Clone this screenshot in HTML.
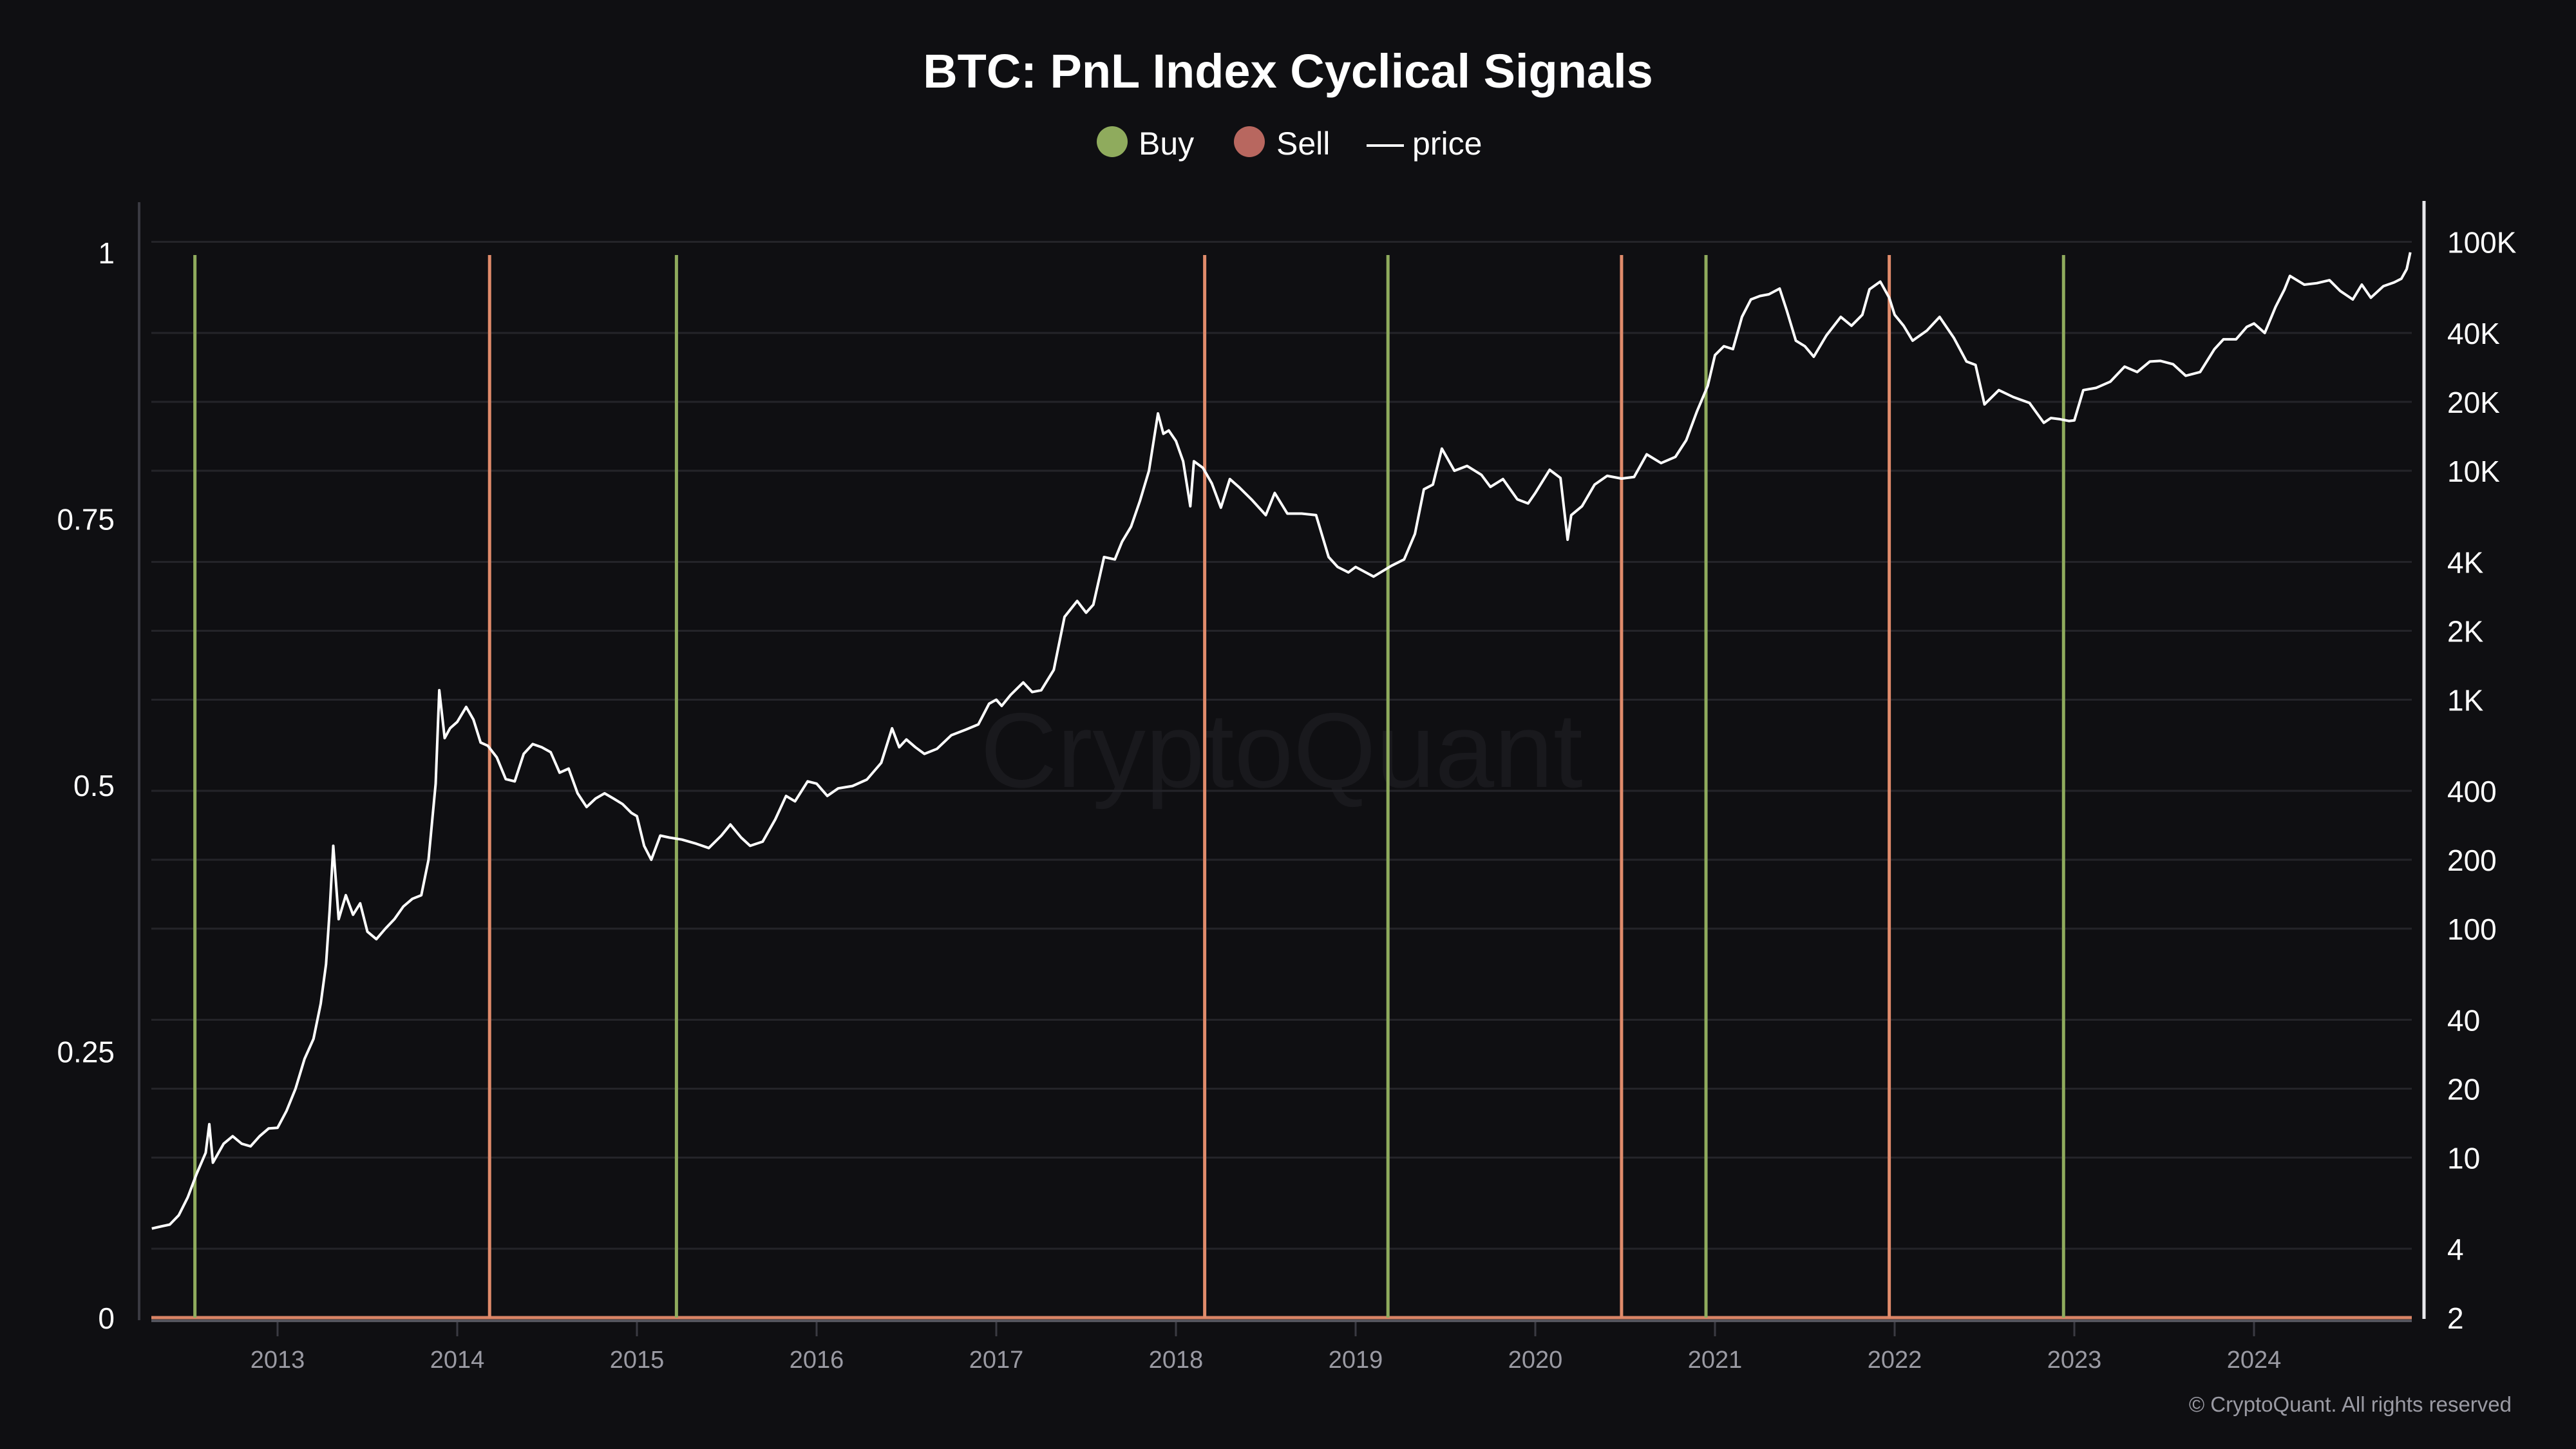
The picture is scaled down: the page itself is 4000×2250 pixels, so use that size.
<!DOCTYPE html>
<html><head><meta charset="utf-8">
<style>
html,body{margin:0;padding:0;background:#0f0f12;}
svg{display:block;font-family:"Liberation Sans",sans-serif;}
</style></head>
<body>
<svg id="chart" width="4000" height="2250" viewBox="0 0 4000 2250" xmlns="http://www.w3.org/2000/svg">
<rect width="4000" height="2250" fill="#0f0f12"/>
<text x="2000" y="136" text-anchor="middle" font-size="74" font-weight="bold" fill="#ffffff">BTC: PnL Index Cyclical Signals</text>
<g>
<g><circle cx="1727" cy="220" r="24" fill="#8fab5d"/><text x="1768" y="240" font-size="50" fill="#ffffff">Buy</text></g>
<g><circle cx="1940" cy="220" r="24" fill="#b8675f"/><text x="1982" y="240" font-size="50" fill="#ffffff">Sell</text></g>
<g><line x1="2122" y1="226" x2="2180" y2="226" stroke="#ffffff" stroke-width="4"/><text x="2193" y="240" font-size="50" fill="#ffffff">price</text></g>
</g>
<text x="1990" y="1222" text-anchor="middle" font-size="165" fill="#19191d">CryptoQuant</text>
<g id="grid"></g>
<g id="axes"></g>
<g id="signals"></g>
<g id="priceg"></g>
<text x="3900" y="2192" text-anchor="end" font-size="33" fill="#9a9aa3">© CryptoQuant. All rights reserved</text>
</svg>
<script>
const yearTicks = [2013,2014,2015,2016,2017,2018,2019,2020,2021,2022,2023,2024];
const leftTicks = [0,0.25,0.5,0.75,1];
const leftTickLabels = ["0","0.25","0.5","0.75","1"];
const priceTicks = [2,4,10,20,40,100,200,400,1000,2000,4000,10000,20000,40000,100000];
const priceTickLabels = ["2","4","10","20","40","100","200","400","1K","2K","4K","10K","20K","40K","100K"];
const buyDates = [2012.54,2015.22,2019.18,2020.95,2022.94];
const sellDates = [2014.18,2018.16,2020.48,2021.97];
const priceDates = [
2012.30,2012.35,2012.40,2012.45,2012.50,2012.55,2012.60,2012.62,2012.64,2012.70,2012.75,2012.80,2012.85,2012.90,2012.95,
2013.00,2013.05,2013.10,2013.15,2013.20,2013.24,2013.27,2013.29,2013.31,2013.34,2013.38,2013.42,2013.46,2013.50,2013.55,2013.60,2013.65,2013.70,2013.75,2013.80,2013.84,2013.88,2013.90,2013.93,2013.96,
2014.00,2014.05,2014.09,2014.13,2014.17,2014.22,2014.27,2014.32,2014.37,2014.42,2014.47,2014.52,2014.57,2014.62,2014.67,2014.72,2014.77,2014.82,2014.87,2014.92,2014.97,
2015.00,2015.04,2015.08,2015.13,2015.18,2015.25,2015.33,2015.40,2015.47,2015.52,2015.58,2015.63,2015.70,2015.77,2015.83,2015.88,2015.95,
2016.00,2016.06,2016.12,2016.20,2016.28,2016.36,2016.42,2016.46,2016.50,2016.55,2016.60,2016.67,2016.75,2016.83,2016.90,2016.96,
2017.00,2017.03,2017.08,2017.15,2017.20,2017.25,2017.32,2017.38,2017.45,2017.50,2017.54,2017.60,2017.66,2017.70,2017.75,2017.80,2017.85,2017.90,2017.93,2017.96,
2018.00,2018.04,2018.08,2018.10,2018.15,2018.20,2018.25,2018.30,2018.35,2018.42,2018.50,2018.55,2018.62,2018.70,2018.78,2018.85,2018.90,2018.96,
2019.00,2019.10,2019.20,2019.27,2019.33,2019.38,2019.43,2019.48,2019.55,2019.62,2019.70,2019.75,2019.82,2019.90,2019.96,
2020.00,2020.08,2020.14,2020.18,2020.20,2020.26,2020.33,2020.40,2020.48,2020.55,2020.62,2020.70,2020.78,2020.84,2020.90,2020.96,
2021.00,2021.05,2021.10,2021.15,2021.20,2021.25,2021.30,2021.36,2021.40,2021.45,2021.50,2021.55,2021.62,2021.70,2021.76,2021.82,2021.86,2021.92,2021.97,
2022.00,2022.05,2022.10,2022.18,2022.25,2022.33,2022.40,2022.45,2022.50,2022.58,2022.66,2022.75,2022.83,2022.87,2022.92,2022.97,
2023.00,2023.05,2023.12,2023.20,2023.28,2023.35,2023.42,2023.48,2023.55,2023.62,2023.70,2023.78,2023.83,2023.90,2023.96,
2024.00,2024.06,2024.12,2024.17,2024.20,2024.28,2024.35,2024.42,2024.48,2024.55,2024.60,2024.65,2024.72,2024.78,2024.82,2024.85,2024.87];
const priceValues = [
4.9,5.0,5.1,5.6,6.7,8.5,10.5,14,9.5,11.5,12.4,11.5,11.2,12.4,13.4,
13.5,16,20,27,33,47,70,120,230,110,140,115,129,97,90,100,110,125,135,140,200,430,1100,680,750,
800,930,820,650,630,560,450,440,580,640,620,590,480,500,390,340,370,390,370,350,320,
310,230,200,255,250,245,235,225,255,285,250,230,240,300,380,360,440,
430,380,410,420,448,530,750,620,670,620,580,610,700,740,780,960,
1000,940,1050,1190,1080,1100,1350,2300,2700,2400,2600,4200,4100,4900,5700,7400,10000,17800,14500,15000,
13500,11000,7000,11000,10300,8800,6900,9200,8500,7500,6400,8000,6500,6500,6400,4200,3800,3600,
3800,3450,3850,4100,5300,8300,8700,12500,10000,10500,9600,8500,9200,7500,7200,
8000,10100,9300,5000,6400,7000,8700,9500,9250,9400,11800,10800,11500,13600,18200,23500,
32000,35000,34000,47000,56000,58000,59000,62500,50000,37000,35000,31500,39000,47000,43000,48000,62000,67000,57000,
48000,43000,37000,41000,47000,38000,30000,29000,19500,22500,21000,19800,16200,17000,16800,16500,
16600,22500,23000,24500,28500,27000,30000,30200,29200,26000,27000,34000,37500,37500,42500,
44000,40000,52000,62000,71000,65000,66000,68000,61000,56000,65000,57000,64000,66500,69000,76000,90000];

const NS = "http://www.w3.org/2000/svg";
const X0 = 431, YEARPX = 279;
const xOf = t => X0 + (t - 2013) * YEARPX;
const Y0 = 2046, Y1 = 392;
const yLeft = v => Y0 - v * (Y0 - Y1);
const DEC = 355.5;
const yPrice = p => Y0 - Math.log10(p / 2) * DEC;
const PL = 235, PR = 3745;

function mk(tag, attrs, parent){
  const e = document.createElementNS(NS, tag);
  for (const k in attrs) e.setAttribute(k, attrs[k]);
  parent.appendChild(e);
  return e;
}
const grid = document.getElementById('grid');
const axes = document.getElementById('axes');
const sig = document.getElementById('signals');
const pg = document.getElementById('priceg');

priceTicks.forEach((p, i) => {
  const y = yPrice(p);
  if (i > 0) {
    const gl = mk('line', {x1: PL, x2: PR, y1: y, y2: y, stroke: '#242429', 'stroke-width': 3}, grid);
    
    
  }
  const t = mk('text', {x: 3800, y: y + 17, 'font-size': 46, fill: '#ffffff'}, axes);
  t.textContent = priceTickLabels[i];
  
  
});
leftTicks.forEach((v, i) => {
  const t = mk('text', {x: 178, y: yLeft(v) + 17, 'text-anchor': 'end', 'font-size': 46, fill: '#ffffff'}, axes);
  t.textContent = leftTickLabels[i];
  
  
});
let a = mk('line', {x1: 216, x2: 216, y1: 314, y2: 2050, stroke: '#3a3a42', 'stroke-width': 4}, axes);


a = mk('line', {x1: 3764, x2: 3764, y1: 312, y2: 2048, stroke: '#e8e8ec', 'stroke-width': 5}, axes);


a = mk('line', {x1: PL, x2: PR, y1: 2051, y2: 2051, stroke: '#55555d', 'stroke-width': 4}, axes);


yearTicks.forEach(yr => {
  const x = xOf(yr);
  const tk = mk('line', {x1: x, x2: x, y1: 2053, y2: 2075, stroke: '#3a3a42', 'stroke-width': 3}, axes);
  
  
  const t = mk('text', {x: x, y: 2124, 'text-anchor': 'middle', 'font-size': 38, fill: '#9a9aa3'}, axes);
  t.textContent = String(yr);
  
  
});

let b = mk('line', {x1: PL, x2: PR, y1: Y0, y2: Y0, stroke: '#d98466', 'stroke-width': 5}, sig);


buyDates.forEach(d => {
  const x = xOf(d);
  const l = mk('line', {x1: x, x2: x, y1: yLeft(1) + 4, y2: Y0, stroke: '#8fab5d', 'stroke-width': 5}, sig);
  
  
});
sellDates.forEach(d => {
  const x = xOf(d);
  const l = mk('line', {x1: x, x2: x, y1: yLeft(1) + 4, y2: Y0, stroke: '#e08b6b', 'stroke-width': 5}, sig);
  
  
});

let dstr = '';
priceDates.forEach((d, i) => {
  dstr += (i ? 'L' : 'M') + xOf(d).toFixed(1) + ',' + yPrice(priceValues[i]).toFixed(1);
});
const pl = mk('path', {d: dstr, fill: 'none', stroke: '#ffffff', 'stroke-width': 4, 'stroke-linejoin': 'round'}, pg);


</script>
</body></html>
